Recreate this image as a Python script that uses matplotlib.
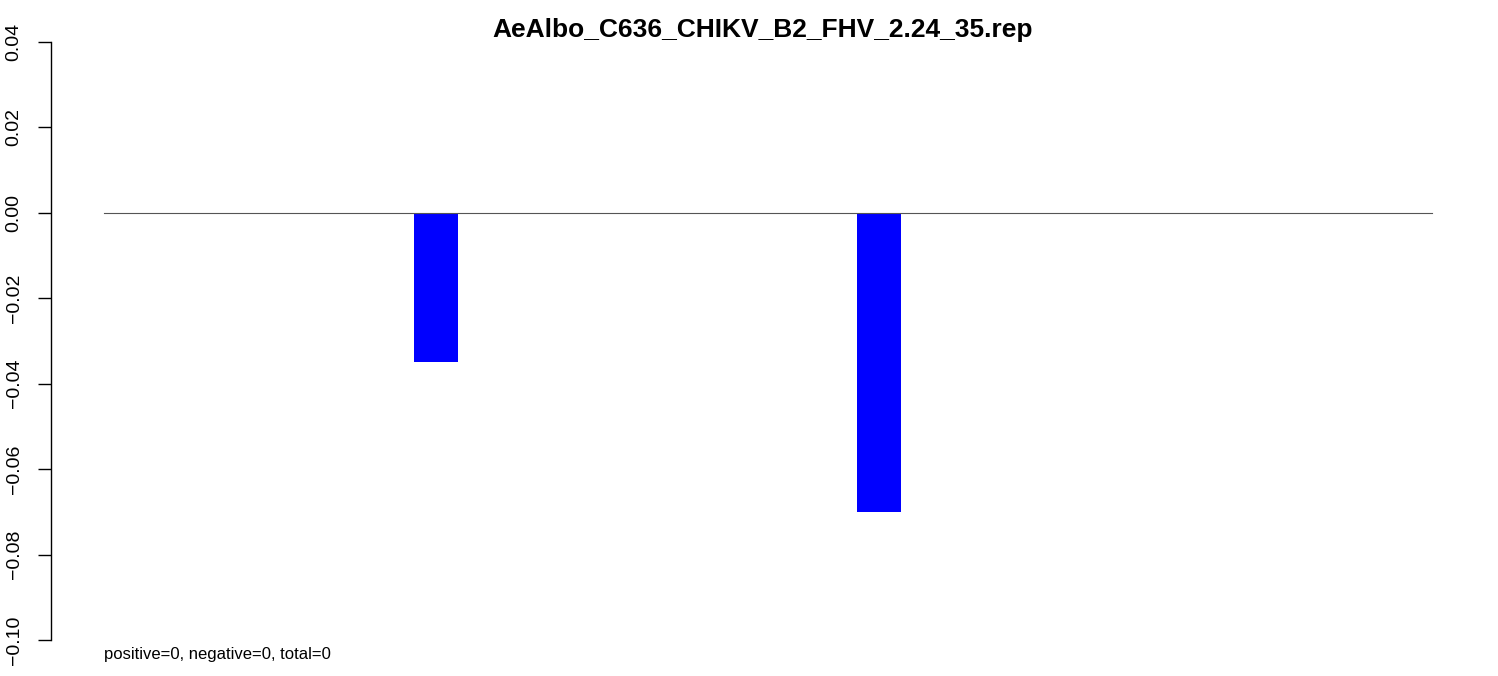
import numpy as np
import matplotlib
matplotlib.use("Agg")
import matplotlib.pyplot as plt
import matplotlib.transforms as mtransforms

# bar values, one per position (30 bars, width 1, no space)
values = [0, 0, 0, 0, 0, 0, 0, -0.035, 0, 0,
          0, 0, 0, 0, 0, 0, 0, -0.07, 0, 0,
          0, 0, 0, 0, 0, 0, 0, 0, 0, 0]
yticks = [-0.10, -0.08, -0.06, -0.04, -0.02, 0.00, 0.02, 0.04]
title = "AeAlbo_C636_CHIKV_B2_FHV_2.24_35.rep"
note = "positive=0, negative=0, total=0"

plt.rcParams['font.family'] = ['Liberation Sans', 'DejaVu Sans']

fig = plt.figure(figsize=(14.98, 6.76), dpi=100)
ax = fig.add_axes([51/1498, 36/676, 1434/1498, 598/676])

n = len(values)
pos = np.arange(n)
ax.bar(pos, values, width=1.0, align='edge', color='#0000FF', linewidth=0)
ax.plot([0, n], [0, 0], color='#555555', linewidth=0.8)

ax.set_xlim(-0.04*n, n*1.04)
ax.set_ylim(-0.10, 0.04)

for s in ['top', 'right', 'bottom']:
    ax.spines[s].set_visible(False)
ax.spines['left'].set_bounds(-0.10, 0.04)
ax.spines['left'].set_linewidth(1.0)
ax.set_xticks([])
ax.set_yticks(yticks)
ax.set_yticklabels([('%.2f' % t).replace('-', '\u2212') for t in yticks],
                   rotation=90, va='center')
ax.yaxis.set_tick_params(length=9.4, width=1.0, pad=11, labelsize=14)

ax.set_title(title, fontsize=19, fontweight='bold', pad=1, x=0.496)

trans = mtransforms.blended_transform_factory(ax.transData, ax.transAxes)
ax.text(0, -0.025, note, transform=trans, fontsize=12, va='center', ha='left')

fig.savefig('out.png', dpi=100)
